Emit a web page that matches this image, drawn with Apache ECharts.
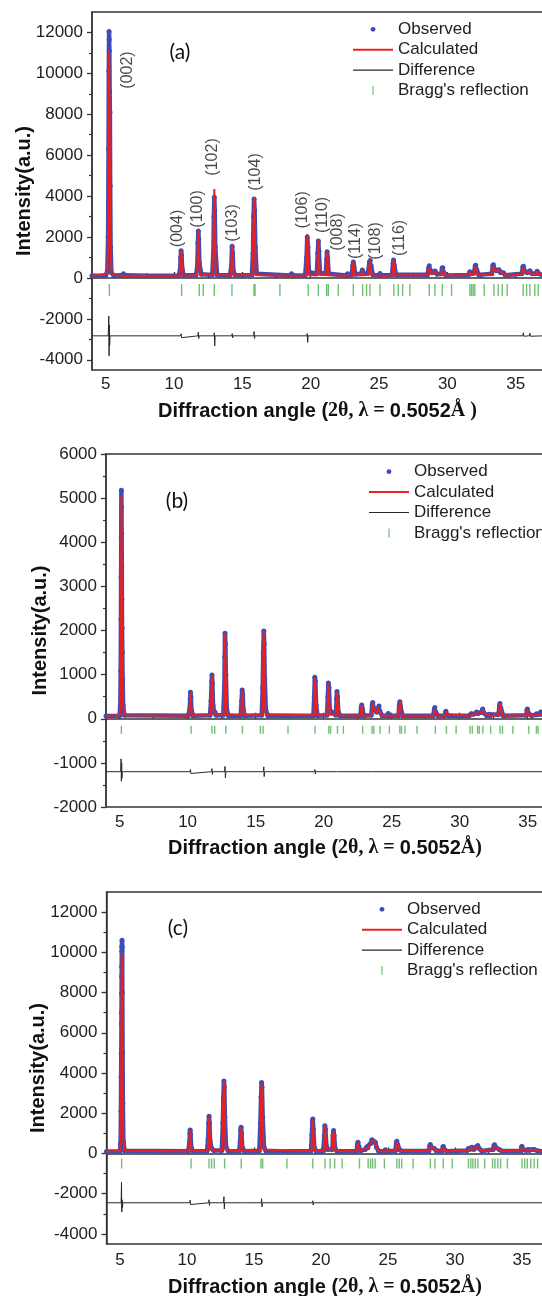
<!DOCTYPE html>
<html>
<head>
<meta charset="utf-8">
<script src="https://cdn.jsdelivr.net/npm/echarts@6/dist/echarts.min.js"></script>
<style>
  html, body { margin: 0; padding: 0; background: #fff; }
  #chart { width: 542px; height: 1296px; }
</style>
</head>
<body>
<div id="chart"></div>
<script>
// ---- panel (a) ----
var obsA = [[4,110],[5.0,120],[5.12,300],[5.18,2000],[5.21,6300],[5.23,10100],[5.25,12050],[5.26,11650],[5.27,11100],[5.29,9100],[5.31,8100],[5.33,4500],[5.36,1500],[5.42,250],[5.6,120],[6.2,130],[6.3,200],[6.4,130],[8,110],[10.35,120],[10.45,400],[10.49,1000],[10.52,1330],[10.55,1100],[10.6,450],[10.7,130],[11.6,130],[11.7,500],[11.75,1700],[11.78,2300],[11.81,1900],[11.86,700],[12.0,180],[12.8,150],[12.88,1200],[12.92,3000],[12.95,3950],[12.98,3300],[13.02,1500],[13.15,150],[14.1,130],[14.2,600],[14.25,1550],[14.29,1200],[14.35,300],[14.5,130],[15.7,140],[15.78,1200],[15.82,3000],[15.86,3860],[15.9,3300],[15.95,1500],[16.05,200],[18.5,120],[18.6,200],[18.7,120],[19.6,130],[19.7,1000],[19.75,2000],[19.8,1500],[19.87,300],[20.45,200],[20.52,1200],[20.56,1800],[20.6,1300],[20.68,250],[21.1,200],[21.17,900],[21.2,1280],[21.24,1000],[21.32,200],[22.6,120],[22.7,200],[22.8,120],[23.0,150],[23.08,600],[23.12,780],[23.17,550],[23.27,180],[23.7,200],[23.78,390],[23.86,200],[24.2,250],[24.3,780],[24.36,850],[24.42,600],[24.55,150],[25.0,130],[25.07,220],[25.15,130],[25.95,150],[26.03,700],[26.07,880],[26.12,600],[26.25,150],[28.55,150],[28.64,500],[28.68,590],[28.74,400],[28.9,250],[29.1,340],[29.25,180],[29.55,200],[29.62,480],[29.67,500],[29.75,250],[29.9,120],[31.55,150],[31.65,300],[31.75,200],[31.95,250],[32.04,600],[32.08,620],[32.15,400],[32.3,150],[33.25,200],[33.33,600],[33.37,650],[33.45,450],[33.6,350],[33.78,400],[33.9,250],[34.1,250],[34.25,130],[35.45,200],[35.53,550],[35.57,570],[35.65,350],[35.85,250],[36.04,350],[36.2,200],[36.45,200],[36.57,330],[36.7,200],[37,130]];
var calcA = [[4,100],[5.12,200],[5.18,2000],[5.22,8000],[5.25,11060],[5.28,9000],[5.31,5000],[5.36,1200],[5.45,150],[6.25,110],[6.3,180],[6.35,110],[10.4,110],[10.48,900],[10.52,1330],[10.56,900],[10.64,120],[11.68,120],[11.75,1600],[11.78,2330],[11.81,1600],[11.9,150],[12.85,130],[12.92,3200],[12.95,4350],[12.98,3000],[13.06,140],[14.16,120],[14.23,1200],[14.26,1610],[14.29,1100],[14.37,130],[15.74,130],[15.82,2900],[15.86,3950],[15.9,2800],[15.98,140],[18.55,110],[18.6,180],[18.65,110],[19.65,120],[19.72,1500],[19.75,2150],[19.78,1500],[19.86,130],[20.47,130],[20.53,1300],[20.56,1850],[20.6,1300],[20.66,140],[21.12,140],[21.17,900],[21.2,1310],[21.24,900],[21.3,130],[22.65,110],[22.7,180],[22.75,110],[23.04,120],[23.09,550],[23.12,790],[23.16,550],[23.22,130],[23.72,130],[23.78,380],[23.84,130],[24.25,140],[24.31,650],[24.34,860],[24.38,600],[24.46,130],[25.02,110],[25.07,200],[25.12,110],[25.99,120],[26.04,650],[26.07,870],[26.11,600],[26.2,130],[28.6,130],[28.65,500],[28.68,580],[28.73,380],[28.85,220],[29.1,330],[29.2,150],[29.58,130],[29.63,420],[29.66,490],[29.72,300],[29.85,120],[31.6,140],[31.65,290],[31.72,160],[32.0,150],[32.04,540],[32.07,610],[32.12,400],[32.25,140],[33.28,150],[33.33,560],[33.36,640],[33.42,420],[33.58,330],[33.78,390],[33.9,230],[34.1,240],[34.22,120],[35.48,150],[35.53,500],[35.56,560],[35.62,350],[35.85,240],[36.04,340],[36.18,180],[36.5,190],[36.57,320],[36.68,180],[37,120]];
var diffA = [[4,-2830],[5.18,-2830],[5.21,-2400],[5.23,-1860],[5.25,-3810],[5.27,-2300],[5.29,-3300],[5.32,-2830],[10.49,-2830],[10.52,-2730],[10.55,-2920],[10.58,-2830],[11.75,-2830],[11.78,-2650],[11.81,-2960],[11.84,-2830],[12.92,-2830],[12.95,-2680],[12.98,-3320],[13.01,-2830],[14.23,-2830],[14.26,-2720],[14.29,-2930],[14.32,-2830],[15.83,-2830],[15.86,-2620],[15.89,-2960],[15.92,-2830],[19.72,-2830],[19.75,-2720],[19.78,-3150],[19.81,-2830],[20.53,-2830],[20.56,-2760],[20.59,-2900],[20.62,-2830],[21.17,-2830],[21.2,-2880],[21.23,-2780],[21.26,-2830],[23.1,-2830],[23.12,-2780],[23.15,-2860],[23.18,-2830],[26.05,-2830],[26.07,-2770],[26.1,-2860],[26.12,-2830],[28.66,-2830],[28.68,-2760],[28.71,-2850],[28.73,-2830],[33.34,-2830],[33.36,-2770],[33.39,-2850],[33.41,-2830],[35.53,-2830],[35.56,-2680],[35.6,-2850],[35.63,-2830],[36.0,-2830],[36.04,-2700],[36.08,-2850],[36.12,-2830],[37,-2830]];
var braggA = [5.27,10.56,11.85,12.14,12.95,14.24,15.85,15.93,17.75,19.82,20.56,21.17,21.29,22.02,23.12,23.8,24.09,24.34,25.07,26.09,26.41,26.73,27.26,28.68,29.09,29.63,30.31,31.65,31.77,31.89,32.01,32.7,33.41,33.72,34.02,34.38,35.55,35.8,36.04,36.4,36.65];
var braggLevelA = -590;
var hklA = ['(002)','(004)','(100)','(102)','(103)','(104)','(106)','(110)','(008)','(114)','(108)','(116)'];
var hklXA = [6.6,10.25,11.72,12.81,14.28,16.0,19.44,20.9,22.0,23.31,24.78,26.53];
var hklYA = [10166,2419,3372,5914,2688,5181,3324,3079,2248,1808,1808,1955];

// ---- panel (b) ----
var obsB = [[4,60],[5.0,70],[5.05,300],[5.08,1080],[5.1,2250],[5.11,3200],[5.12,4100],[5.13,5180],[5.14,4800],[5.15,4200],[5.16,3450],[5.17,2700],[5.18,2050],[5.2,1500],[5.22,900],[5.26,300],[5.35,80],[10.05,70],[10.15,200],[10.19,450],[10.21,600],[10.24,500],[10.28,200],[10.4,70],[11.65,80],[11.72,400],[11.77,850],[11.79,990],[11.82,800],[11.87,300],[11.95,150],[12.02,150],[12.1,80],[12.62,80],[12.7,700],[12.73,1400],[12.75,1940],[12.78,1700],[12.81,1000],[12.88,200],[13,70],[13.9,70],[13.97,400],[14.01,650],[14.05,550],[14.1,200],[14.2,70],[15.45,80],[15.52,700],[15.56,1500],[15.6,1990],[15.63,1700],[15.67,900],[15.75,200],[15.9,70],[19.25,70],[19.31,500],[19.35,940],[19.39,850],[19.45,300],[19.55,70],[20.25,80],[20.31,500],[20.35,810],[20.39,700],[20.45,200],[20.9,80],[20.95,450],[20.98,620],[21.02,500],[21.08,150],[21.2,70],[22.7,70],[22.76,250],[22.8,310],[22.85,220],[22.95,70],[23.5,80],[23.57,300],[23.61,370],[23.66,250],[23.9,150],[24.03,250],[24.07,290],[24.12,180],[24.3,70],[24.7,70],[24.75,120],[24.8,70],[25.5,70],[25.56,300],[25.6,385],[25.65,280],[25.8,70],[28.05,70],[28.14,220],[28.18,255],[28.24,150],[28.4,70],[28.9,70],[28.96,150],[28.99,170],[29.05,100],[29.2,70],[30.7,70],[30.85,115],[31.0,100],[31.2,130],[31.25,155],[31.35,120],[31.6,150],[31.69,220],[31.78,130],[32.0,70],[32.15,100],[32.25,70],[32.85,90],[32.93,300],[32.96,345],[33.02,250],[33.2,70],[34.9,80],[34.95,200],[34.98,220],[35.05,130],[35.3,70],[35.6,90],[35.66,115],[35.75,90],[35.9,120],[35.96,155],[36.05,100],[36.3,80]];
var calcB = [[4,60],[5.02,80],[5.08,1000],[5.11,3500],[5.13,5050],[5.15,3800],[5.18,1800],[5.23,500],[5.32,80],[10.12,70],[10.18,400],[10.21,600],[10.24,420],[10.32,80],[11.7,80],[11.76,700],[11.79,980],[11.82,700],[11.9,160],[12.02,150],[12.1,80],[12.66,90],[12.72,1300],[12.75,1930],[12.78,1300],[12.86,100],[13.94,80],[13.99,450],[14.02,650],[14.06,450],[14.14,80],[15.5,90],[15.56,1400],[15.6,1980],[15.64,1400],[15.72,100],[19.28,80],[19.33,650],[19.36,930],[19.4,650],[19.48,80],[20.27,80],[20.32,600],[20.35,800],[20.39,560],[20.47,90],[20.9,90],[20.95,450],[20.98,610],[21.02,420],[21.1,80],[22.72,70],[22.77,230],[22.8,300],[22.85,200],[22.93,70],[23.52,80],[23.58,280],[23.61,360],[23.66,240],[23.9,140],[24.03,240],[24.07,280],[24.12,170],[24.25,70],[24.7,70],[24.75,110],[24.8,70],[25.52,70],[25.57,300],[25.6,380],[25.65,260],[25.75,70],[28.1,70],[28.15,210],[28.18,250],[28.24,140],[28.35,70],[28.92,70],[28.97,150],[29.0,165],[29.06,100],[29.15,70],[30.8,70],[30.88,110],[31.0,100],[31.2,130],[31.25,150],[31.35,115],[31.62,150],[31.69,215],[31.77,120],[32.1,80],[32.2,95],[32.3,70],[32.88,90],[32.93,290],[32.96,340],[33.02,230],[33.15,70],[34.92,80],[34.96,200],[34.99,215],[35.05,120],[35.25,70],[35.6,85],[35.66,110],[35.75,85],[35.9,115],[35.96,150],[36.05,95],[36.3,80]];
var diffB = [[4,-1200],[5.08,-1200],[5.11,-910],[5.13,-1415],[5.15,-1000],[5.17,-1350],[5.2,-1200],[10.18,-1200],[10.21,-1150],[10.24,-1240],[10.27,-1200],[11.76,-1200],[11.79,-1130],[11.82,-1260],[11.85,-1200],[12.72,-1200],[12.75,-1080],[12.78,-1340],[12.81,-1200],[14,-1200],[14.03,-1160],[14.06,-1230],[14.09,-1200],[15.57,-1200],[15.6,-1090],[15.63,-1310],[15.66,-1200],[19.33,-1200],[19.36,-1150],[19.39,-1250],[19.42,-1200],[20.32,-1200],[20.35,-1170],[20.38,-1230],[20.41,-1200],[20.95,-1200],[20.98,-1180],[21.01,-1220],[21.04,-1200],[23.6,-1200],[23.62,-1180],[23.65,-1220],[23.68,-1200],[36.3,-1200]];
var braggB = [5.13,10.26,11.79,11.99,12.81,14.03,15.35,15.55,17.38,19.37,20.38,20.51,21.02,21.45,22.87,23.56,23.69,24.15,24.83,25.6,25.72,25.98,26.87,28.21,29.03,29.74,30.76,30.93,31.32,31.44,31.7,32.28,32.97,33.15,33.91,35.08,35.64,35.77];
var braggLevelB = -250;

// ---- panel (c) ----
var obsC = [[4,100],[5.0,110],[5.05,500],[5.08,2100],[5.09,3800],[5.1,4950],[5.11,5200],[5.115,6450],[5.12,7000],[5.125,7950],[5.13,8800],[5.135,9300],[5.14,10050],[5.15,10300],[5.16,10600],[5.17,10250],[5.18,8000],[5.2,5000],[5.22,2500],[5.26,600],[5.35,130],[10.1,110],[10.18,500],[10.22,1000],[10.24,1170],[10.27,950],[10.32,300],[10.45,110],[11.5,120],[11.58,700],[11.62,1500],[11.65,1850],[11.68,1500],[11.73,600],[11.84,250],[12.0,150],[12.6,150],[12.68,1500],[12.72,2800],[12.76,3600],[12.79,3300],[12.83,1800],[12.92,300],[13.1,110],[13.9,110],[13.97,600],[14.01,1150],[14.04,1300],[14.07,1000],[14.13,300],[14.3,110],[15.4,130],[15.48,1500],[15.53,2800],[15.57,3530],[15.6,3300],[15.65,1800],[15.75,300],[15.9,110],[19.25,120],[19.32,900],[19.36,1600],[19.39,1715],[19.43,1200],[19.5,300],[19.65,110],[20.18,120],[20.25,900],[20.29,1385],[20.33,1200],[20.4,400],[20.5,200],[20.85,200],[20.9,900],[20.94,1140],[20.98,900],[21.05,250],[21.2,110],[22.65,110],[22.72,450],[22.76,560],[22.82,350],[22.95,130],[23.3,200],[23.4,310],[23.5,280],[23.7,500],[23.8,680],[23.9,620],[24.05,560],[24.15,300],[24.3,120],[24.73,110],[24.8,180],[24.9,110],[25.55,130],[25.62,550],[25.66,610],[25.72,450],[25.85,200],[26.0,120],[28.05,120],[28.12,400],[28.16,445],[28.25,300],[28.45,250],[28.6,130],[29.05,130],[29.1,330],[29.13,350],[29.2,200],[29.4,110],[30.9,150],[31.0,250],[31.1,200],[31.22,290],[31.27,310],[31.4,200],[31.62,350],[31.7,400],[31.8,250],[32.0,120],[32.85,200],[32.91,410],[32.95,430],[33.05,300],[33.3,200],[33.5,120],[34.9,130],[34.97,330],[35.0,350],[35.08,200],[35.3,150],[35.45,200],[35.55,150],[35.85,200],[35.95,190],[36.2,120],[36.7,110]];
var calcC = [[4,100],[5.03,130],[5.08,1800],[5.11,6000],[5.14,9970],[5.17,7500],[5.2,3500],[5.25,800],[5.34,130],[10.15,110],[10.2,700],[10.24,1150],[10.28,700],[10.35,120],[11.55,120],[11.61,1300],[11.65,1840],[11.69,1300],[11.76,300],[11.84,240],[12.0,150],[12.64,150],[12.7,2500],[12.76,3580],[12.8,2500],[12.88,200],[13.93,110],[13.99,900],[14.03,1290],[14.07,900],[14.15,120],[15.45,130],[15.51,2400],[15.57,3500],[15.62,2500],[15.72,200],[19.3,120],[19.35,1200],[19.39,1700],[19.43,1200],[19.52,130],[20.21,130],[20.26,1000],[20.3,1370],[20.34,1000],[20.42,250],[20.86,200],[20.9,800],[20.94,1130],[20.98,800],[21.08,130],[22.68,110],[22.73,400],[22.76,550],[22.81,350],[22.9,130],[23.35,250],[23.4,300],[23.55,280],[23.74,550],[23.8,670],[23.92,600],[24.05,550],[24.15,280],[24.3,120],[24.75,110],[24.8,170],[24.88,110],[25.58,140],[25.63,500],[25.66,600],[25.72,420],[25.85,180],[26.0,120],[28.08,120],[28.13,380],[28.16,440],[28.24,300],[28.45,240],[28.6,130],[29.06,130],[29.1,310],[29.13,345],[29.2,190],[29.35,110],[30.92,150],[31.0,240],[31.1,190],[31.22,280],[31.27,305],[31.4,190],[31.63,340],[31.7,395],[31.8,240],[32.0,120],[32.87,200],[32.92,400],[32.95,425],[33.05,290],[33.3,190],[33.5,120],[34.92,130],[34.97,320],[35.0,345],[35.08,200],[35.3,150],[35.45,190],[35.55,150],[35.85,190],[35.95,185],[36.2,120],[36.7,110]];
var diffC = [[4,-2450],[5.09,-2450],[5.12,-1420],[5.14,-2900],[5.16,-2300],[5.19,-2700],[5.22,-2450],[10.21,-2450],[10.24,-2320],[10.27,-2540],[10.3,-2450],[11.62,-2450],[11.65,-2300],[11.68,-2580],[11.71,-2450],[12.73,-2450],[12.76,-2150],[12.79,-2760],[12.82,-2450],[14.0,-2450],[14.03,-2380],[14.06,-2520],[14.09,-2450],[15.54,-2450],[15.57,-2250],[15.6,-2650],[15.63,-2450],[19.36,-2450],[19.39,-2350],[19.42,-2560],[19.45,-2450],[20.27,-2450],[20.3,-2380],[20.33,-2510],[20.36,-2450],[20.91,-2450],[20.94,-2400],[20.97,-2500],[21.0,-2450],[36.7,-2450]];
var braggC = [5.13,10.31,11.65,11.84,12.04,12.81,14.05,15.52,15.65,17.46,19.39,20.3,20.68,21.02,21.58,22.87,23.52,23.7,23.85,24.04,24.73,25.66,25.84,26.02,26.87,28.16,28.5,29.12,29.79,31.0,31.18,31.33,31.51,31.7,32.21,32.8,32.98,33.19,33.4,33.91,35.0,35.2,35.39,35.65,35.9,36.16];
var braggLevelC = -500;

// axis ticks
var xMajor = [5,10,15,20,25,30,35];
var xMinor = [7.5,12.5,17.5,22.5,27.5,32.5];
var yMajorAC = [-4000,-2000,0,2000,4000,6000,8000,10000,12000];
var yMinorAC = [-3000,-1000,1000,3000,5000,7000,9000,11000];
var yMajorB = [-2000,-1000,0,1000,2000,3000,4000,5000,6000];
var yMinorB = [-1500,-500,500,1500,2500,3500,4500,5500];

var legendNames = ['Observed','Calculated','Difference',"Bragg's reflection"];

var BLUE = '#3d4db7', RED = '#ea2020', DARK = '#2a2a2a', GREEN = '#4caf50';
var SANS = 'Liberation Sans';

var xTitleRich = {
    a: {fontFamily: SANS, fontWeight: 'bold', fontSize: 20, color: '#111'},
    b: {fontFamily: 'Liberation Serif', fontWeight: 'bold', fontSize: 20, color: '#111'}
};

var grids = [], xAxes = [], yAxes = [], series = [], legends = [];

function addPanel(p, box, xr, yr, yMajor, yMinor, xTitle, xLabelMargin, xNameGap, yNameGap, obs, calc, diff, bragg, braggLevel, braggH, legendPos) {
    grids.push({left: box[0], top: box[1], width: box[2], height: box[3], show: true,
        outerBoundsMode: 'none', containLabel: false,
        borderColor: '#333', borderWidth: 1.3, backgroundColor: 'transparent'});
    xAxes.push({
        type: 'value', gridIndex: p, min: xr[0], max: xr[1], position: 'bottom',
        axisLine: {show: true, lineStyle: {color: '#333', width: 1.5}},
        axisTick: {inside: true, length: 6, customValues: xMajor, lineStyle: {color: '#333', width: 1.3}},
        axisLabel: {customValues: xMajor, fontSize: 17, color: '#222', fontFamily: SANS, margin: xLabelMargin},
        splitLine: {show: false},
        name: xTitle, nameLocation: 'middle', nameGap: xNameGap, nameMoveOverlap: false,
        nameTextStyle: {rich: xTitleRich}
    });
    xAxes.push({
        type: 'value', gridIndex: p, min: xr[0], max: xr[1], position: 'bottom',
        axisLine: {show: false}, axisLabel: {show: false}, splitLine: {show: false},
        axisTick: {inside: true, length: 3.5, customValues: xMinor, lineStyle: {color: '#333', width: 1.2}}
    });
    yAxes.push({
        type: 'value', gridIndex: p, min: yr[0], max: yr[1], position: 'left',
        axisLine: {show: true, lineStyle: {color: '#333', width: 1.5}},
        axisTick: {inside: false, length: 5, customValues: yMajor, lineStyle: {color: '#333', width: 1.3}},
        axisLabel: {customValues: yMajor, fontSize: 17, color: '#222', fontFamily: SANS, margin: 9,
            formatter: function (v) { return String(v); }},
        splitLine: {show: false},
        name: 'Intensity(a.u.)', nameLocation: 'middle', nameGap: yNameGap, nameMoveOverlap: false,
        nameTextStyle: {fontFamily: SANS, fontWeight: 'bold', fontSize: 20, color: '#111'}
    });
    yAxes.push({
        type: 'value', gridIndex: p, min: yr[0], max: yr[1], position: 'left',
        axisLine: {show: false}, axisLabel: {show: false}, splitLine: {show: false},
        axisTick: {inside: false, length: 3, customValues: yMinor, lineStyle: {color: '#333', width: 1.2}}
    });
    var xi = p * 2, yi = p * 2;
    series.push({name: 'Observed', type: 'line', xAxisIndex: xi, yAxisIndex: yi, data: obs,
        symbol: 'circle', symbolSize: 5, showSymbol: true, itemStyle: {color: BLUE},
        lineStyle: {color: BLUE, width: 4.5}, z: 2, silent: true});
    series.push({name: 'Calculated', type: 'line', xAxisIndex: xi, yAxisIndex: yi, data: calc,
        symbol: 'none', itemStyle: {color: RED}, lineStyle: {color: RED, width: 2}, z: 3, silent: true});
    series.push({name: 'Difference', type: 'line', xAxisIndex: xi, yAxisIndex: yi, data: diff,
        symbol: 'none', itemStyle: {color: DARK}, lineStyle: {color: DARK, width: 1}, z: 3, silent: true});
    series.push({name: "Bragg's reflection", type: 'scatter', xAxisIndex: xi, yAxisIndex: yi,
        data: bragg.map(function (v) { return [v, braggLevel]; }),
        symbol: 'rect', symbolSize: [1.4, braggH], itemStyle: {color: GREEN}, z: 2, silent: true});
    legends.push({
        orient: 'vertical', left: legendPos[0], top: legendPos[1], padding: 0, itemGap: 0.4,
        itemWidth: 40, itemHeight: 10, itemStyle: {borderWidth: 0},
        textStyle: {fontSize: 17, color: '#222', fontFamily: SANS, lineHeight: 20},
        selectedMode: false,
        data: [
            {name: legendNames[0], icon: 'path://M0,0 L0,0 M40,10 L40,10 M17.6,5 A2.4,2.4 0 1,0 22.4,5 A2.4,2.4 0 1,0 17.6,5 Z'},
            {name: legendNames[1], icon: 'path://M0,0 L0,0 M40,10 L40,10 M0,4 L40,4 L40,6 L0,6 Z'},
            {name: legendNames[2], icon: 'path://M0,0 L0,0 M40,10 L40,10 M0,4.5 L40,4.5 L40,5.6 L0,5.6 Z'},
            {name: legendNames[3], icon: 'path://M0,0 L0,0 M40,10 L40,10 M19.4,0.5 L20.6,0.5 L20.6,9.5 L19.4,9.5 Z'}
        ]
    });
}

addPanel(0, [92, 12, 451, 358], [4, 37], [-4500, 13000], yMajorAC, yMinorAC,
    '{a|Diffraction angle (}{b|2θ, λ = }{a|0.5052}{b|Å )}', 6, 31, 58,
    obsA, calcA, diffA, braggA, braggLevelA, 12, [353, 19.3]);
addPanel(1, [106, 454, 438, 353], [4, 36.2], [-2000, 6000], yMajorB, yMinorB,
    '{a|Diffraction angle (}{b|2θ, λ = }{a|0.5052}{b|Å)}', 7, 31, 56,
    obsB, calcB, diffB, braggB, braggLevelB, 8, [369, 461.7]);
addPanel(2, [106.5, 892, 437, 352], [4, 36.6], [-4500, 13000], yMajorAC, yMinorAC,
    '{a|Diffraction angle (}{b|2θ, λ = }{a|0.5052}{b|Å)}', 8, 33, 58,
    obsC, calcC, diffC, braggC, braggLevelC, 10, [362, 899.3]);

// hkl labels for panel (a)
series.push({
    name: 'hkl', type: 'scatter', xAxisIndex: 0, yAxisIndex: 0, symbolSize: 1,
    itemStyle: {color: 'transparent'}, silent: true, z: 5,
    data: hklA.map(function (h, i) { return {name: h, value: [hklXA[i], hklYA[i]]}; }),
    label: {show: true, position: 'inside', formatter: '{b}', rotate: 90,
        fontSize: 16, color: '#1a1a1a', fontFamily: SANS}
});

var myChart = echarts.init(document.getElementById('chart'), null, {renderer: 'canvas'});
myChart.setOption({
    animation: false,
    backgroundColor: '#fff',
    textStyle: {fontFamily: SANS},
    grid: grids,
    xAxis: xAxes,
    yAxis: yAxes,
    legend: legends,
    series: series,
    graphic: [
        {type: 'text', x: 180, y: 52, style: {text: '(a)', font: '21px Lato', fill: '#111', align: 'center', verticalAlign: 'middle'}},
        {type: 'text', x: 177, y: 501, style: {text: '(b)', font: '21px Lato', fill: '#111', align: 'center', verticalAlign: 'middle'}},
        {type: 'text', x: 178, y: 928, style: {text: '(c)', font: '21px Lato', fill: '#111', align: 'center', verticalAlign: 'middle'}}
    ]
});
</script>
</body>
</html>
